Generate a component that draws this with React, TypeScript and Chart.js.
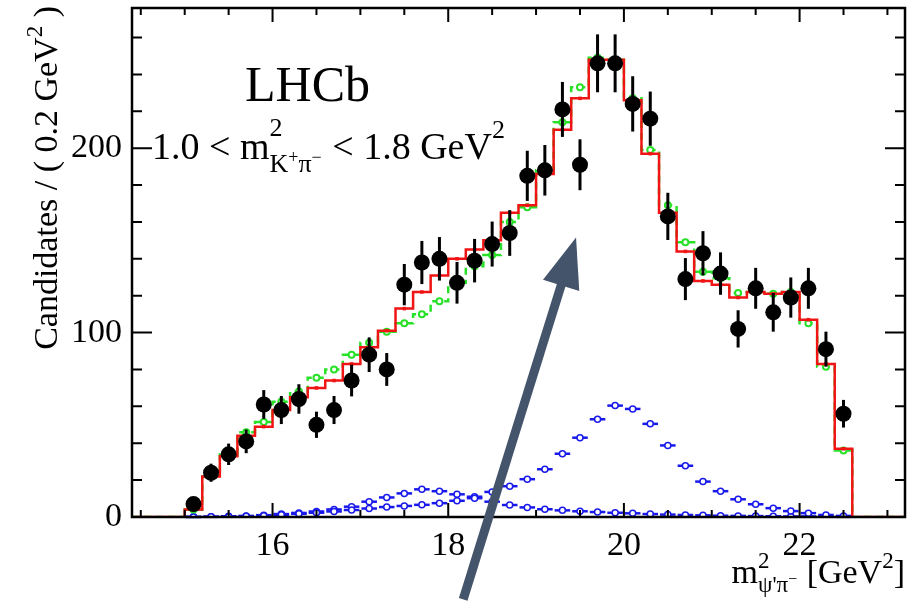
import React, { useEffect, useRef } from 'react';
import { Chart, registerables } from 'chart.js';

Chart.register(...registerables);

const FONT = "'Liberation Serif', 'Times New Roman', serif";

// ---- data ----
const binCenters = [15.1, 15.3, 15.5, 15.7, 15.9, 16.1, 16.3, 16.5, 16.7, 16.9, 17.1, 17.3, 17.5, 17.7, 17.9, 18.1, 18.3, 18.5, 18.7, 18.9, 19.1, 19.3, 19.5, 19.7, 19.9, 20.1, 20.3, 20.5, 20.7, 20.9, 21.1, 21.3, 21.5, 21.7, 21.9, 22.1, 22.3, 22.5];
const BIN_WIDTH = 0.2;

const candidates = [7, 24, 34, 41, 61, 58, 64, 50, 58, 74, 88, 80, 126, 138, 140, 127, 139, 148, 154, 185, 188, 221, 191, 246, 246, 224, 216, 163, 129, 143, 132, 102, 124, 111, 119, 124, 91, 56];
const candidateErrors = [2.6, 4.9, 5.8, 6.4, 7.8, 7.6, 8.0, 7.1, 7.6, 8.6, 9.4, 8.9, 11.2, 11.7, 11.8, 11.3, 11.8, 12.2, 12.4, 13.6, 13.7, 14.9, 13.8, 15.7, 15.7, 15.0, 14.7, 12.8, 11.4, 12.0, 11.5, 10.1, 11.1, 10.5, 10.9, 11.1, 9.5, 7.5];

const totalFit = [4, 22, 33, 44, 49, 58, 65, 70, 74, 83, 92, 101, 113, 122, 131, 140, 145, 150, 165, 169, 186, 210, 227, 248, 248, 226, 197, 165, 144, 128, 126, 119, 122, 121, 122, 107, 83, 37];
const altFit = [4, 22, 34, 46, 51.5, 62.5, 68, 75.5, 80, 88, 94.5, 100.5, 105, 110, 117, 127, 136, 142, 160, 168, 188, 214, 233, 249, 248, 227, 199, 169, 149, 133, 129.5, 121.5, 122, 121, 122, 105, 81.5, 36];

const componentHigh = [0, 0.1, 0.2, 0.4, 0.7, 1.2, 1.7, 2.3, 3.0, 3.8, 4.6, 5.4, 6.0, 6.6, 7.5, 8.8, 10.2, 13.6, 16.7, 20.5, 25.9, 34.3, 43, 53, 60.4, 58.6, 50.5, 38.8, 27.8, 19.2, 14, 9.6, 6.9, 4.8, 3.2, 2.1, 1.1, 0.6];
const componentLow = [0.1, 0.2, 0.4, 0.6, 1.0, 1.6, 2.2, 3.0, 4.1, 5.6, 8.3, 10.6, 12.8, 15.0, 14.0, 12.3, 11.0, 8.3, 6.5, 5.2, 4.2, 3.6, 3.1, 2.7, 2.3, 2.0, 1.6, 1.3, 1.1, 0.9, 0.7, 0.6, 0.5, 0.4, 0.3, 0.3, 0.2, 0.1];

const xTickLabels = [16, 18, 20, 22];
const yTickLabels = [0, 100, 200];
const X_MIN = 14.4;
const X_MAX = 23.2;
const Y_MIN = 0;
const Y_MAX = 276;

// arrow annotation in data units: [x, y]
const ARROW_FROM = [18.17, -44.7];
const ARROW_TO = [19.455, 151.5];

const RED = 'rgb(240,20,20)';
const GREEN = 'rgb(40,225,40)';
const BLUE = 'rgb(25,25,235)';
const ARROW = '#44546A';

type Run = { t: string; s: number; r: number };
type Item = Run | { sup: Run[]; sub: Run[] };

function runsWidth(ctx: CanvasRenderingContext2D, runs: Run[]) {
  let w = 0;
  for (const r of runs) {
    ctx.font = `${r.s}px ${FONT}`;
    w += ctx.measureText(r.t).width;
  }
  return w;
}
function itemsWidth(ctx: CanvasRenderingContext2D, items: Item[]) {
  let w = 0;
  for (const it of items) {
    if ('sup' in it) w += Math.max(runsWidth(ctx, it.sup), runsWidth(ctx, it.sub)) + 1;
    else w += runsWidth(ctx, [it]);
  }
  return w;
}
function drawRuns(ctx: CanvasRenderingContext2D, runs: Run[], x: number, y: number) {
  let cx = x;
  for (const r of runs) {
    ctx.font = `${r.s}px ${FONT}`;
    ctx.fillText(r.t, cx, y - r.r);
    cx += ctx.measureText(r.t).width;
  }
  return cx;
}
function drawItems(ctx: CanvasRenderingContext2D, items: Item[], x: number, y: number) {
  let cx = x;
  ctx.textAlign = 'left';
  ctx.textBaseline = 'alphabetic';
  for (const it of items) {
    if ('sup' in it) {
      const a = drawRuns(ctx, it.sup, cx, y);
      const b = drawRuns(ctx, it.sub, cx, y);
      cx = Math.max(a, b) + 1;
    } else {
      cx = drawRuns(ctx, [it], cx, y);
    }
  }
  return cx;
}

const kinematicText: Item[] = [
  { t: '1.0 < m', s: 38, r: 0 },
  { sup: [{ t: '2', s: 26, r: 23 }], sub: [{ t: 'K', s: 26, r: -13 }, { t: '+', s: 18, r: -4 }, { t: 'π', s: 26, r: -13 }, { t: '−', s: 18, r: -4 }] },
  { t: ' < 1.8 GeV', s: 38, r: 0 },
  { t: '2', s: 26, r: 21 },
];
const xTitle: Item[] = [
  { t: 'm', s: 34, r: 0 },
  { sup: [{ t: '2', s: 23, r: 15 }], sub: [{ t: 'ψ', s: 23, r: -9 }, { t: "'", s: 23, r: -9 }, { t: 'π', s: 23, r: -9 }, { t: '−', s: 16, r: -1 }] },
  { t: ' [GeV', s: 34, r: 0 },
  { t: '2', s: 23, r: 15 },
  { t: ']', s: 34, r: 0 },
];
const yTitle: Item[] = [
  { t: 'Candidates / ( 0.2 GeV', s: 34, r: 0 },
  { t: '2', s: 23, r: 15 },
  { t: ' )', s: 34, r: 0 },
];

const decorPlugin = {
  id: 'decor',
  beforeDatasetsDraw(chart: any) {
    const { ctx, scales } = chart;
    const x = scales.x, y = scales.y;
    ctx.save();
    ctx.strokeStyle = BLUE;
    ctx.lineWidth = 2.5;
    for (const series of [componentHigh, componentLow]) {
      series.forEach((v: number, i: number) => {
        const c = binCenters[i];
        const py = y.getPixelForValue(v);
        ctx.beginPath();
        ctx.moveTo(x.getPixelForValue(c - BIN_WIDTH / 2) + 1, py);
        ctx.lineTo(x.getPixelForValue(c + BIN_WIDTH / 2) - 1, py);
        ctx.stroke();
      });
    }
    ctx.restore();
  },
  afterDatasetsDraw(chart: any) {
    const { ctx, scales } = chart;
    const x = scales.x, y = scales.y;
    ctx.save();
    ctx.strokeStyle = '#000';
    ctx.lineWidth = 3;
    candidates.forEach((v, i) => {
      const px = x.getPixelForValue(binCenters[i]);
      ctx.beginPath();
      ctx.moveTo(px, y.getPixelForValue(v - candidateErrors[i]));
      ctx.lineTo(px, y.getPixelForValue(v + candidateErrors[i]));
      ctx.stroke();
    });
    ctx.restore();
  },
  afterDraw(chart: any) {
    const { ctx, scales, chartArea } = chart;
    const x = scales.x, y = scales.y;
    const { left, right, top, bottom } = chartArea;
    ctx.save();
    // frame
    ctx.strokeStyle = '#000';
    ctx.lineWidth = 2.5;
    ctx.strokeRect(left, top, right - left, bottom - top);
    // ticks
    ctx.lineWidth = 2;
    ctx.beginPath();
    for (let v = Y_MIN; v <= Y_MAX; v += 20) {
      const py = y.getPixelForValue(v);
      const len = v % 100 === 0 ? 20 : 10;
      ctx.moveTo(left, py); ctx.lineTo(left + len, py);
      ctx.moveTo(right, py); ctx.lineTo(right - len, py);
    }
    for (let k = 29; k <= 46; k++) {
      const v = k / 2;
      const px = x.getPixelForValue(v);
      const len = xTickLabels.includes(v) ? 14 : 7;
      ctx.moveTo(px, bottom); ctx.lineTo(px, bottom - len);
      ctx.moveTo(px, top); ctx.lineTo(px, top + len);
    }
    ctx.stroke();
    // texts
    ctx.fillStyle = '#000';
    ctx.font = `50px ${FONT}`;
    ctx.textAlign = 'left';
    ctx.textBaseline = 'alphabetic';
    ctx.fillText('LHCb', 245, 101);
    drawItems(ctx, kinematicText, 152, 159);
    const xw = itemsWidth(ctx, xTitle);
    drawItems(ctx, xTitle, right - xw, 583);
    const yw = itemsWidth(ctx, yTitle);
    ctx.save();
    ctx.translate(57, 6);
    ctx.rotate(-Math.PI / 2);
    drawItems(ctx, yTitle, -yw, 0);
    ctx.restore();
    // arrow
    const tx = x.getPixelForValue(ARROW_FROM[0]), ty = y.getPixelForValue(ARROW_FROM[1]);
    const hx = x.getPixelForValue(ARROW_TO[0]), hy = y.getPixelForValue(ARROW_TO[1]);
    const dx = hx - tx, dy = hy - ty;
    const L = Math.hypot(dx, dy);
    const ux = dx / L, uy = dy / L;
    const nx = -uy, ny = ux;
    const headLen = 50, headHalf = 19;
    const bx = hx - ux * headLen, by = hy - uy * headLen;
    ctx.strokeStyle = ARROW;
    ctx.fillStyle = ARROW;
    ctx.lineWidth = 9;
    ctx.lineCap = 'butt';
    ctx.beginPath();
    ctx.moveTo(tx, ty);
    ctx.lineTo(bx + ux * 4, by + uy * 4);
    ctx.stroke();
    ctx.beginPath();
    ctx.moveTo(hx, hy);
    ctx.lineTo(bx + nx * headHalf, by + ny * headHalf);
    ctx.lineTo(bx - nx * headHalf, by - ny * headHalf);
    ctx.closePath();
    ctx.fill();
    ctx.restore();
  },
};

function stepData(values: number[]) {
  const pts = [{ x: X_MIN, y: 0 }];
  values.forEach((v, i) => pts.push({ x: binCenters[i] - BIN_WIDTH / 2, y: v }));
  pts.push({ x: binCenters[binCenters.length - 1] + BIN_WIDTH / 2, y: 0 });
  pts.push({ x: X_MAX, y: 0 });
  return pts;
}
const centerData = (values: number[]) => values.map((v, i) => ({ x: binCenters[i], y: v }));

export default function App() {
  const ref = useRef<HTMLCanvasElement>(null);
  useEffect(() => {
    const canvas = ref.current!;
    const chart = new Chart(canvas, {
      type: 'scatter',
      data: {
        datasets: [
          { label: 'Data', data: centerData(candidates), showLine: false, pointRadius: 8, pointBackgroundColor: '#000', pointBorderWidth: 0, order: 0 } as any,
          { label: 'Fit markers', data: centerData(totalFit), showLine: false, pointStyle: 'rect', pointRadius: 2.5, pointBackgroundColor: RED, pointBorderWidth: 0, order: 1 } as any,
          { label: 'Fit', data: stepData(totalFit), showLine: true, stepped: 'before', borderColor: RED, borderWidth: 2.5, pointRadius: 0, order: 2 } as any,
          { label: 'Alt markers', data: centerData(altFit), showLine: false, pointStyle: 'circle', pointRadius: 3, pointBackgroundColor: '#fff', pointBorderColor: GREEN, pointBorderWidth: 2, order: 3 } as any,
          { label: 'Alt fit', data: stepData(altFit), showLine: true, stepped: 'before', borderColor: GREEN, borderWidth: 2.5, borderDash: [7, 5], pointRadius: 0, order: 4 } as any,
          { label: 'Component 1', data: centerData(componentHigh), showLine: false, pointStyle: 'circle', pointRadius: 3, pointBackgroundColor: '#fff', pointBorderColor: BLUE, pointBorderWidth: 1.5, order: 5 } as any,
          { label: 'Component 2', data: centerData(componentLow), showLine: false, pointStyle: 'circle', pointRadius: 3, pointBackgroundColor: '#fff', pointBorderColor: BLUE, pointBorderWidth: 1.5, order: 6 } as any,
        ],
      },
      options: {
        animation: false,
        responsive: false,
        devicePixelRatio: 1,
        layout: { padding: { top: 5, right: 11, left: 0, bottom: 0 } },
        plugins: { legend: { display: false }, tooltip: { enabled: false } },
        scales: {
          x: {
            type: 'linear', min: X_MIN, max: X_MAX,
            grid: { display: false, drawTicks: false }, border: { display: false },
            afterBuildTicks: (s: any) => { s.ticks = xTickLabels.map((v) => ({ value: v })); },
            afterFit: (s: any) => { s.height = 91; s.paddingLeft = 0; s.paddingRight = 0; },
            ticks: { color: '#000', font: { family: FONT, size: 34 }, padding: 9, maxRotation: 0, autoSkip: false, callback: (v: any) => String(v) },
          },
          y: {
            type: 'linear', min: Y_MIN, max: Y_MAX,
            grid: { display: false, drawTicks: false }, border: { display: false },
            afterBuildTicks: (s: any) => { s.ticks = yTickLabels.map((v) => ({ value: v })); },
            afterFit: (s: any) => { s.width = 132; s.paddingTop = 0; s.paddingBottom = 0; },
            ticks: { color: '#000', font: { family: FONT, size: 34 }, padding: 10, callback: (v: any) => String(v) },
          },
        },
      } as any,
      plugins: [decorPlugin],
    });
    return () => chart.destroy();
  }, []);
  return (
    <div style={{ position: 'fixed', left: 0, top: 0, width: 916, height: 608, background: '#fff' }}>
      <canvas ref={ref} width={916} height={608} style={{ display: 'block' }} />
    </div>
  );
}
